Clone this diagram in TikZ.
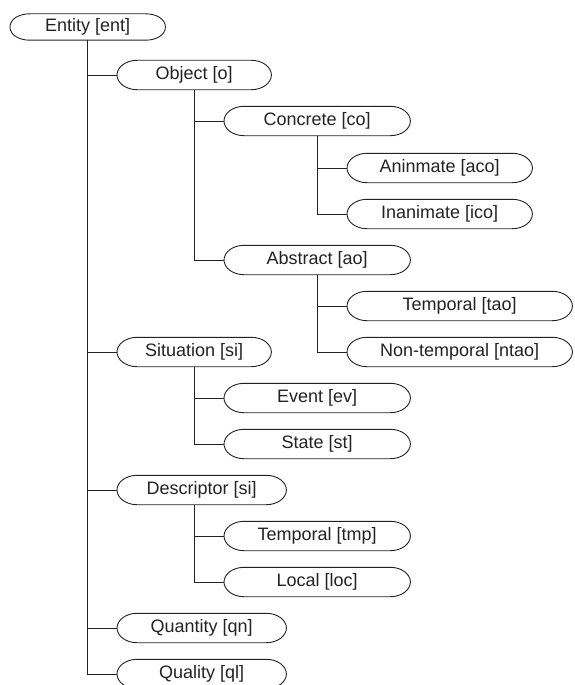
\documentclass[tikz,border=0pt]{standalone}
\usepackage{fontspec}
\setmainfont{Liberation Sans}
\definecolor{Ink}{HTML}{222222}
\newcommand{\catfont}{\fontsize{18}{20}\selectfont}
\tikzset{
  catline/.style={draw=Ink, line width=0.9pt},
  catnode/.style={
    rectangle, inner sep=0pt, anchor=west, minimum height=29pt,
    font=\catfont, text=Ink,
    append after command={\pgfextra{
      \draw[catline] ([xshift=20pt]\tikzlastnode.north west)
        -- ([xshift=-20pt]\tikzlastnode.north east)
        .. controls +(11pt,0) and +(0,8pt) .. (\tikzlastnode.east)
        .. controls +(0,-8pt) and +(11pt,0) .. ([xshift=-20pt]\tikzlastnode.south east)
        -- ([xshift=20pt]\tikzlastnode.south west)
        .. controls +(-11pt,0) and +(0,-8pt) .. (\tikzlastnode.west)
        .. controls +(0,8pt) and +(-11pt,0) .. ([xshift=20pt]\tikzlastnode.north west)
        -- cycle;
    }}
  },
  catlink/.style={draw=Ink, line width=0.8pt},
}

\begin{document}
\begin{tikzpicture}[x=1pt, y=1pt]
    \useasboundingbox (0,0) rectangle (575,-685);
    % root
    \node[catnode, minimum width=155pt, minimum height=26pt] (ent) at (10,-27) {Entity [ent]};
    % first level
    \node[catnode, minimum width=154pt] (obj) at (117,-75) {Object [o]};
    \node[catnode, minimum width=154pt] (sit) at (117,-352) {Situation [si]};
    \node[catnode, minimum width=169pt] (desc) at (117,-490) {Descriptor [si]};
    \node[catnode, minimum width=169pt] (quan) at (117,-628) {Quantity [qn]};
    \node[catnode, minimum width=169pt] (qual) at (117,-674) {Quality [ql]};
    % second level
    \node[catnode, minimum width=186pt] (conc) at (224,-121) {Concrete [co]};
    \node[catnode, minimum width=186pt] (abst) at (224,-260) {Abstract [ao]};
    \node[catnode, minimum width=186pt] (event) at (224,-398) {Event [ev]};
    \node[catnode, minimum width=186pt] (state) at (224,-444) {State [st]};
    \node[catnode, minimum width=186pt] (dtemp) at (224,-536) {Temporal [tmp]};
    \node[catnode, minimum width=186pt] (loc) at (224,-582) {Local [loc]};
    % third level
    \node[catnode, minimum width=185pt] (anim) at (347,-168) {Aninmate [aco]};
    \node[catnode, minimum width=185pt] (inan) at (347,-214) {Inanimate [ico]};
    \node[catnode, minimum width=225pt] (temp) at (347,-306) {Temporal [tao]};
    \node[catnode, minimum width=225pt] (ntemp) at (347,-352) {Non-temporal [ntao]};
    % tree lines
    \foreach \p/\c in {ent/obj, ent/sit, ent/desc, ent/quan, ent/qual,
                       obj/conc, obj/abst, conc/anim, conc/inan,
                       abst/temp, abst/ntemp, sit/event, sit/state}
      \draw[catlink] (\p.south) |- (\c.west);
    \foreach \c in {dtemp, loc}
      \draw[catlink] ([xshift=-7.5pt]desc.south) |- (\c.west);
\end{tikzpicture}
\end{document}
